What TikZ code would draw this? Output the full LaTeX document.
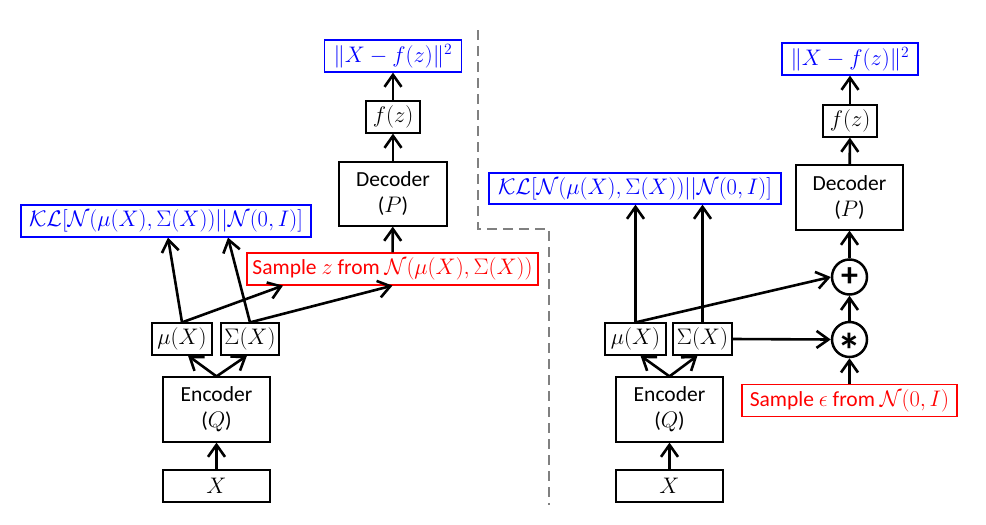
\documentclass[tikz,border=0pt]{standalone}
\usepackage{graphicx}
\usepackage{fontspec}
\setmainfont{Carlito}
\usetikzlibrary{arrows.meta}
\newcommand\mth[1]{{\fontsize{20.74}{26}\selectfont\scalebox{1.085}{$#1$}}}
\begin{document}
\begin{tikzpicture}[x=1pt,y=-1pt,
  font=\fontsize{21.5}{26}\selectfont,
  box/.style={draw, line width=1.2pt, inner sep=0pt, minimum height=32pt, align=center},
  bbox/.style={box, draw=blue, text=blue},
  rbox/.style={box, draw=red, text=red},
  arr/.style={line width=2.6pt, -{Straight Barb[length=12pt,width=17pt,line width=2.6pt]}},
  op/.style={circle, draw, line width=2.5pt, minimum size=35pt, inner sep=0pt, font=\fontsize{34}{34}\selectfont\bfseries},
  sep/.style={draw=gray, line width=2.5pt, dash pattern=on 10pt off 6pt}]
\useasboundingbox (0,0) rectangle (986,525);

% ---------- left ----------
\node[box, minimum width=107pt] (lX) at (216.5,486) {\mth{X}};
\node[box, minimum width=107pt, minimum height=65pt] (lEnc) at (216.5,409.5) {Encoder\\(\mth{Q})};
\node[box, minimum width=60pt] (lmu) at (182,339) {\mth{\mu(X)}};
\node[box, minimum width=58pt] (lsig) at (250,339) {\mth{\Sigma(X)}};
\node[bbox, minimum width=290pt] (lKL) at (166,221) {\mth{\mathcal{KL}[\mathcal{N}(\mu(X),\Sigma(X))||\mathcal{N}(0,I)]}};
\node[rbox, minimum width=291pt] (lSamp) at (392.5,269) {Sample \mth{z} from \mth{\mathcal{N}(\mu(X),\Sigma(X))}};
\node[box, minimum width=108pt, minimum height=64pt] (lDec) at (393,194) {Decoder\\(\mth{P})};
\node[box, minimum width=54pt] (lfz) at (393,117) {\mth{f(z)}};
\node[bbox, minimum width=137pt] (lLoss) at (393,56) {\mth{\|X-f(z)\|^2}};

\coordinate (xa) at (168,0);
\coordinate (xb) at (283,0);
\coordinate (xc) at (228,0);
\draw[arr] (lX) -- (lEnc);
\draw[arr] (lEnc.north) -- ([xshift=6pt]lmu.south);
\draw[arr] (lEnc.north) -- ([xshift=-3pt]lsig.south);
\draw[arr] (lmu.north) -- (xa |- lKL.south);
\draw[arr] (lmu.north) -- (xb |- lSamp.south);
\draw[arr] (lsig.north) -- (xc |- lKL.south);
\draw[arr] (lsig.north) -- (lSamp.south);
\draw[arr] (lSamp) -- (lDec);
\draw[arr] (lDec) -- (lfz);
\draw[arr] (lfz) -- (lLoss);

% ---------- separator ----------
\coordinate (s1) at (478,30);
\coordinate (s2) at (478,229);
\coordinate (s3) at (549,229);
\coordinate (s4) at (549,505);
\draw[sep] (s1) -- (s2) -- (s3) -- (s4);

% ---------- right ----------
\node[box, minimum width=107pt] (rX) at (669.5,486) {\mth{X}};
\node[box, minimum width=107pt, minimum height=65pt] (rEnc) at (669.5,409.5) {Encoder\\(\mth{Q})};
\node[box, minimum width=61pt] (rmu) at (635.5,339) {\mth{\mu(X)}};
\node[box, minimum width=59pt] (rsig) at (702.5,339) {\mth{\Sigma(X)}};
\node[bbox, minimum width=292pt, minimum height=31pt] (rKL) at (635,188.5) {\mth{\mathcal{KL}[\mathcal{N}(\mu(X),\Sigma(X))||\mathcal{N}(0,I)]}};
\node[box, minimum width=107pt, minimum height=65pt] (rDec) at (849.5,197.5) {Decoder\\(\mth{P})};
\node[box, minimum width=54pt] (rfz) at (850,121) {\mth{f(z)}};
\node[bbox, minimum width=136pt] (rLoss) at (850,59) {\mth{\|X-f(z)\|^2}};
\node[op] (plus) at (849.5,277) {+};
\node[op] (star) at (849.5,339.5) {\fontsize{48}{48}\selectfont\raisebox{-0.58em}[0pt][0pt]{*}};
\node[rbox, minimum width=215pt] (rSamp) at (849.5,400.5) {Sample \mth{\epsilon} from \mth{\mathcal{N}(0,I)}};

\draw[arr] (rX) -- (rEnc);
\draw[arr] (rEnc.north) -- ([xshift=5pt]rmu.south);
\draw[arr] (rEnc.north) -- ([xshift=-5pt]rsig.south);
\draw[arr] (rmu.north) -- (rmu.north |- rKL.south);
\draw[arr] (rsig.north) -- (rsig.north |- rKL.south);
\draw[arr] (rmu.north) -- (plus.west);
\draw[arr] (rsig.east) -- (star.west);
\draw[arr] (rSamp) -- (star);
\draw[arr] (star) -- (plus);
\draw[arr] (plus) -- (rDec);
\draw[arr] (rDec) -- (rfz);
\draw[arr] (rfz) -- (rLoss);
\end{tikzpicture}
\end{document}
